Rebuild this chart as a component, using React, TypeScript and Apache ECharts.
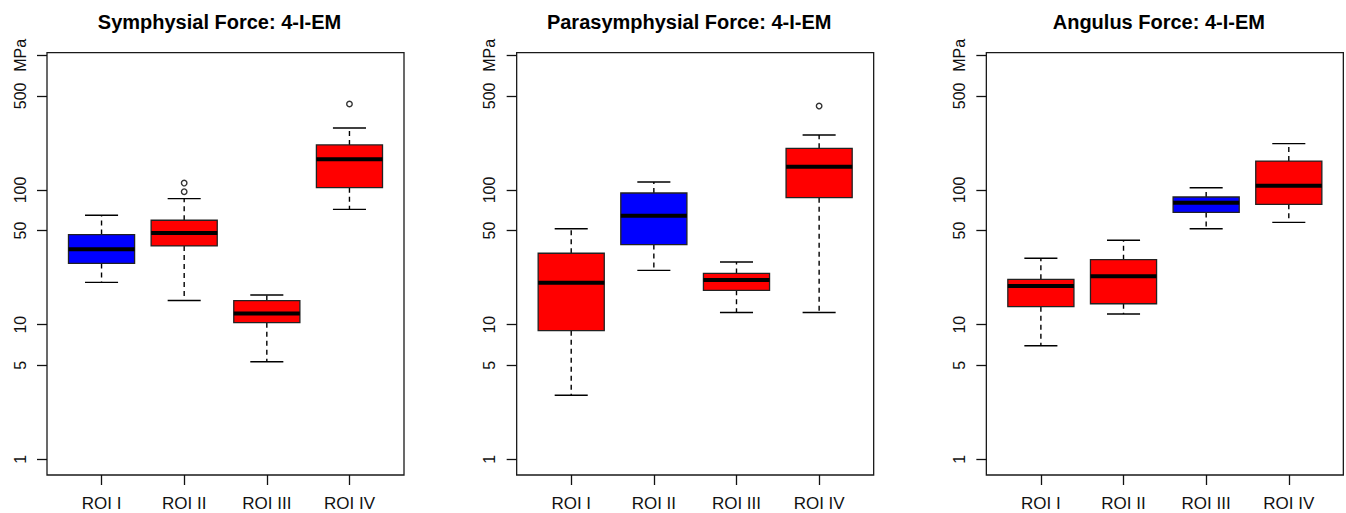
import React, { useEffect, useRef } from 'react';
import * as echarts from 'echarts';

const categories = ['ROI I', 'ROI II', 'ROI III', 'ROI IV'];
const panelTitles = ['Symphysial Force: 4-I-EM', 'Parasymphysial Force: 4-I-EM', 'Angulus Force: 4-I-EM'];
const yTickValues = [1, 5, 10, 50, 100, 500, 1000];
const yTickLabels = ['1', '5', '10', '50', '100', '500', 'MPa'];

// [lower whisker, Q1, median, Q3, upper whisker]
const symphysialStats = [
  [20.6, 28.5, 36.3, 46.7, 65.0],
  [15.1, 38.4, 48.0, 59.6, 86.3],
  [5.31, 10.35, 12.1, 15.1, 16.6],
  [71.8, 104, 169, 216, 289],
];
const symphysialOutliers = [[2, 112.5], [2, 97.2], [4, 435]];
const symphysialColors = ['#0000FF', '#FF0000', '#FF0000', '#FF0000'];

const parasymphysialStats = [
  [2.99, 9.02, 20.5, 33.9, 51.6],
  [25.3, 39.3, 64.4, 95.0, 114.6],
  [12.3, 18.0, 21.5, 24.0, 29.2],
  [12.3, 87.7, 149, 204, 256],
];
const parasymphysialOutliers = [[4, 420]];
const parasymphysialColors = ['#FF0000', '#0000FF', '#FF0000', '#FF0000'];

const angulusStats = [
  [6.98, 13.6, 19.4, 21.7, 31.1],
  [12.0, 14.3, 22.9, 30.4, 42.3],
  [51.6, 68.2, 80.5, 88.7, 104],
  [57.5, 78.3, 107.7, 164, 220.8],
];
const angulusOutliers: number[][] = [];
const angulusColors = ['#FF0000', '#FF0000', '#0000FF', '#FF0000'];

const panels = [
  { title: panelTitles[0], stats: symphysialStats, outliers: symphysialOutliers, colors: symphysialColors },
  { title: panelTitles[1], stats: parasymphysialStats, outliers: parasymphysialOutliers, colors: parasymphysialColors },
  { title: panelTitles[2], stats: angulusStats, outliers: angulusOutliers, colors: angulusColors },
];

const FONT = '"Liberation Sans", Arial, Helvetica, sans-serif';

export default function App() {
  const ref = useRef<HTMLDivElement>(null);

  useEffect(() => {
    if (!ref.current) return;
    const chart = echarts.init(ref.current, undefined, { renderer: 'svg' });

    const plotLeft0 = 47;
    const plotStep = 469.67;
    const plotTop = 52.7;
    const plotW = 357;
    const plotH = 422.3;

    const grid: any[] = [];
    const xAxis: any[] = [];
    const yAxis: any[] = [];
    const series: any[] = [];
    const title: any[] = [];

    panels.forEach((p, i) => {
      const left = plotLeft0 + i * plotStep;
      grid.push({
        left,
        top: plotTop,
        width: plotW,
        height: plotH,
        show: true,
        borderColor: '#1a1a1a',
        borderWidth: 1.3,
        backgroundColor: 'transparent',
        containLabel: false,
        outerBoundsMode: 'none',
      });
      title.push({
        text: p.title,
        left: left + plotW / 2 - 6,
        top: 12,
        textAlign: 'center',
        padding: 0,
        textStyle: { fontSize: 20, fontWeight: 'bold', fontFamily: FONT, color: '#000' },
      });
      xAxis.push({
        type: 'value',
        gridIndex: i,
        min: 0.34,
        max: 4.66,
        axisLine: { show: false },
        splitLine: { show: false },
        axisTick: {
          show: true,
          inside: false,
          length: 10,
          customValues: [1, 2, 3, 4],
          lineStyle: { color: '#111', width: 1.3 },
        },
        axisLabel: {
          show: true,
          customValues: [1, 2, 3, 4],
          formatter: (v: number) => categories[Math.round(v) - 1] ?? '',
          margin: 20,
          fontSize: 17,
          fontFamily: FONT,
          color: '#111',
        },
      });
      yAxis.push({
        type: 'log',
        logBase: 10,
        gridIndex: i,
        min: 0.765,
        max: 1046,
        axisLine: { show: false },
        splitLine: { show: false },
        minorTick: { show: false },
        axisTick: {
          show: true,
          inside: false,
          length: 10,
          customValues: yTickValues,
          lineStyle: { color: '#111', width: 1.3 },
        },
        axisLabel: {
          show: true,
          customValues: yTickValues,
          rotate: 90,
          margin: 19,
          fontSize: 16,
          fontFamily: FONT,
          color: '#111',
          formatter: (v: number) => {
            const idx = yTickValues.findIndex((t) => Math.abs(t - v) / t < 1e-4);
            return idx >= 0 ? yTickLabels[idx] : '';
          },
        },
      });

      const colors = p.colors;
      series.push({
        type: 'custom',
        xAxisIndex: i,
        yAxisIndex: i,
        clip: false,
        encode: { x: 0, y: [1, 2, 3, 4, 5] },
        data: p.stats.map((s, k) => [k + 1, ...s]),
        renderItem: (params: any, api: any) => {
          const x = api.value(0);
          const lo = api.value(1);
          const q1 = api.value(2);
          const med = api.value(3);
          const q3 = api.value(4);
          const hi = api.value(5);
          const boxL = api.coord([x - 0.4, med])[0];
          const boxR = api.coord([x + 0.4, med])[0];
          const capL = api.coord([x - 0.2, med])[0];
          const capR = api.coord([x + 0.2, med])[0];
          const cx = api.coord([x, med])[0];
          const yLo = api.coord([x, lo])[1];
          const yQ1 = api.coord([x, q1])[1];
          const yMed = api.coord([x, med])[1];
          const yQ3 = api.coord([x, q3])[1];
          const yHi = api.coord([x, hi])[1];
          const dash = { stroke: '#000', lineWidth: 1.4, lineDash: [5, 4] };
          const solid = { stroke: '#000', lineWidth: 1.4 };
          return {
            type: 'group',
            children: [
              { type: 'line', shape: { x1: cx, y1: yQ3, x2: cx, y2: yHi }, style: dash },
              { type: 'line', shape: { x1: cx, y1: yQ1, x2: cx, y2: yLo }, style: dash },
              { type: 'line', shape: { x1: capL, y1: yHi, x2: capR, y2: yHi }, style: solid },
              { type: 'line', shape: { x1: capL, y1: yLo, x2: capR, y2: yLo }, style: solid },
              {
                type: 'rect',
                shape: { x: boxL, y: yQ3, width: boxR - boxL, height: yQ1 - yQ3 },
                style: { fill: colors[params.dataIndex], stroke: '#222', lineWidth: 1.3 },
              },
              { type: 'line', shape: { x1: boxL, y1: yMed, x2: boxR, y2: yMed }, style: { stroke: '#000', lineWidth: 4 } },
            ],
          };
        },
      });
      if (p.outliers.length) {
        series.push({
          type: 'scatter',
          xAxisIndex: i,
          yAxisIndex: i,
          symbol: 'circle',
          symbolSize: 5.5,
          data: p.outliers,
          itemStyle: { color: '#fff', borderColor: '#000', borderWidth: 1.4 },
          emphasis: { disabled: true },
        });
      }
    });

    chart.setOption({
      animation: false,
      backgroundColor: '#fff',
      title,
      grid,
      xAxis,
      yAxis,
      series,
      tooltip: { show: false },
    });

    return () => chart.dispose();
  }, []);

  return (
    <div
      ref={ref}
      style={{ position: 'absolute', left: 0, top: 0, width: 1346, height: 513, background: '#fff' }}
    />
  );
}
